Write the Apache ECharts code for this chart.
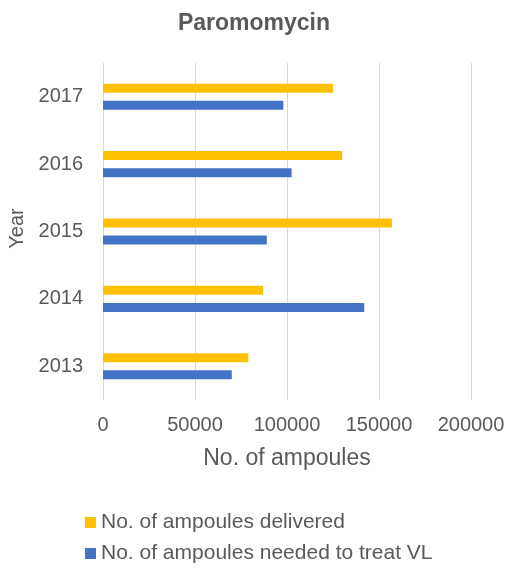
<!DOCTYPE html>
<html>
<head>
<meta charset="utf-8">
<script src="https://cdn.jsdelivr.net/npm/echarts@6/dist/echarts.min.js"></script>
<style>
	html, body { margin: 0; padding: 0; background: #fff; }
	#box { width: 508px; height: 569px; }
</style>
</head>
<body>
<div id="box"></div>
<script>
var years = ['2013', '2014', '2015', '2016', '2017'];
var delivered = [79000, 87000, 157000, 130000, 125000];
var needed = [70000, 142000, 89000, 102500, 98000];
var xTicks = [0, 50000, 100000, 150000, 200000];
var nameDelivered = 'No. of ampoules delivered';
var nameNeeded = 'No. of ampoules needed to treat VL';

var grey = '#595959';
var font = 'Liberation Sans';

var myChart = echarts.init(document.getElementById('box'));

var option = {
	animation: false,
	title: {
		text: 'Paromomycin',
		left: 'center',
		top: 7,
		textStyle: {
			color: grey,
			fontFamily: font,
			fontWeight: 'bold',
			fontSize: 23
		}
	},
	legend: {
		orient: 'vertical',
		left: 80,
		top: 507,
		height: 62,
		itemWidth: 11,
		itemHeight: 11,
		itemGap: 10,
		icon: 'rect',
		textStyle: {
			color: grey,
			fontFamily: font,
			fontSize: 21
		},
		data: [nameDelivered, nameNeeded]
	},
	grid: {
		left: 103,
		right: 37,
		top: 63,
		bottom: 169,
		outerBoundsMode: 'none'
	},
	xAxis: {
		type: 'value',
		min: xTicks[0],
		max: xTicks[xTicks.length - 1],
		interval: 50000,
		name: 'No. of ampoules',
		nameLocation: 'middle',
		nameGap: 47,
		nameTextStyle: {
			color: grey,
			fontFamily: font,
			fontSize: 23
		},
		axisLine: { show: false },
		axisTick: { show: false },
		axisLabel: {
			color: grey,
			fontFamily: font,
			fontSize: 20,
			margin: 15,
			formatter: function (v) {
				return String(v);
			}
		},
		splitLine: {
			lineStyle: {
				color: '#d9d9d9',
				width: 1
			}
		}
	},
	yAxis: {
		type: 'category',
		data: years,
		name: 'Year',
		nameLocation: 'middle',
		nameGap: 75,
		nameTextStyle: {
			color: grey,
			fontFamily: font,
			fontSize: 20,
			padding: [0, 0, 0, 6]
		},
		axisLine: { show: false },
		axisTick: { show: false },
		axisLabel: {
			color: grey,
			fontFamily: font,
			fontSize: 20,
			margin: 20
		}
	},
	series: [{
			name: nameDelivered,
			type: 'bar',
			data: delivered,
			barWidth: 9,
			barGap: '90%',
			itemStyle: {
				color: '#FFC000'
			}
		},
		{
			name: nameNeeded,
			type: 'bar',
			data: needed,
			barWidth: 9,
			barGap: '90%',
			itemStyle: {
				color: '#4472C4'
			}
		}
	]
};

myChart.setOption(option, true);
</script>
</body>
</html>
